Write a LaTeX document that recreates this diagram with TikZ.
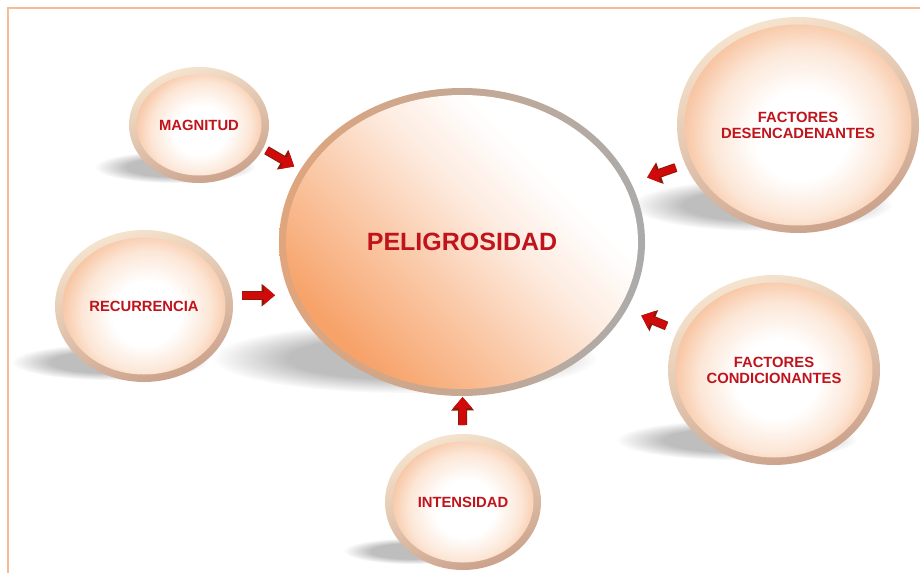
\documentclass[tikz,border=0pt]{standalone}
\usepackage{fontspec}
\setmainfont{Liberation Sans}
\usetikzlibrary{shapes.geometric,arrows.meta,fadings,calc}
\definecolor{txtred}{HTML}{C0141C}
\definecolor{peach}{HTML}{F8C6A4}
\definecolor{peachlt}{HTML}{FCE6D6}
\definecolor{rimlight}{HTML}{F6E4CE}
\definecolor{rimdark}{HTML}{CBA28C}
\definecolor{pelorange}{HTML}{F7A269}
\definecolor{pelmid}{HTML}{FAC8A6}
\definecolor{pelpale}{HTML}{FDEBDF}
\definecolor{pelrimL}{HTML}{E0A57C}
\definecolor{pelrimR}{HTML}{ABABAB}
\definecolor{arrred}{HTML}{D00A0A}
\definecolor{arrdark}{HTML}{8A1A08}
\definecolor{framecol}{HTML}{F6BC96}
\definecolor{shadowcol}{HTML}{BEBEBE}
\pgfdeclareradialshading{bubinner}{\pgfpoint{0bp}{-3bp}}{color(0bp)=(white); color(10bp)=(white); color(19bp)=(peachlt); color(25bp)=(peach); color(50bp)=(peach)}
\pgfdeclareverticalshading{peltone}{100bp}{color(0bp)=(pelorange); color(27bp)=(pelorange); color(42bp)=(pelmid); color(55bp)=(pelpale); color(66bp)=(white); color(100bp)=(white)}
\pgfdeclareradialshading{shfade}{\pgfpointorigin}{color(0bp)=(pgftransparent!0); color(15bp)=(pgftransparent!0); color(25bp)=(pgftransparent!100); color(50bp)=(pgftransparent!100)}
\pgfdeclarefading{softshadow}{\pgfuseshading{shfade}}
\tikzset{
  bub/.style={ellipse, inner sep=0pt, outer sep=0pt, top color=rimlight, bottom color=rimdark, shading angle=20,
    font=\bfseries\fontsize{14.8}{16}\selectfont, text=txtred, align=center,
    path picture={\shade[shading=bubinner] let \p1=(path picture bounding box.north east), \p2=(path picture bounding box.center) in (\p2) ellipse [x radius=\x1-\x2-7.5pt, y radius=\y1-\y2-7.5pt];}},
  pelbub/.style={ellipse, inner sep=0pt, outer sep=0pt, left color=pelrimL, right color=pelrimR,
    font=\bfseries\fontsize{25}{30}\selectfont, text=txtred,
    path picture={\shade[shading=peltone, shading angle=-45] let \p1=(path picture bounding box.north east), \p2=(path picture bounding box.center) in (\p2) ellipse [x radius=\x1-\x2-7pt, y radius=\y1-\y2-7pt];}},
  barrow/.style={draw=arrred, line width=7pt, -{Triangle[length=11pt,width=18pt]},
    preaction={draw=arrdark, line width=9pt, -{Triangle[length=13.5pt,width=22pt]}}},
  shadowblob/.style={fill=shadowcol, path fading=softshadow},
  framerule/.style={draw=framecol, line width=1.5pt}
}
\begin{document}
\begin{tikzpicture}[x=1pt,y=-1pt]
\useasboundingbox (0,0) rectangle (920,573);
\fill[white] (0,0) rectangle (920,573);
\draw[framerule] (8,573) -- (8,8) -- (920,8);
% shadows
\fill[shadowblob] (175,167) ellipse (80 and 16);
\fill[shadowblob] (405,358) ellipse (192 and 35);
\fill[shadowblob] (110,362) ellipse (98 and 18);
\fill[shadowblob] (412,551) ellipse (68 and 13);
\fill[shadowblob] (762,205) ellipse (130 and 26);
\fill[shadowblob] (737,440) ellipse (120 and 20);
% bubbles
\node[bub, minimum width=140pt, minimum height=116pt] (mag) at (199,125) {MAGNITUD};
\node[pelbub, minimum width=366pt, minimum height=308pt] (pel) at (462,242) {PELIGROSIDAD};
\node[bub, minimum width=242pt, minimum height=216pt] (desc) at (798,125) {FACTORES\\DESENCADENANTES};
\node[bub, minimum width=178pt, minimum height=152pt] (rec) at (144,306) {RECURRENCIA};
\node[bub, minimum width=156pt, minimum height=136pt] (int) at (463,502) {INTENSIDAD};
\node[bub, minimum width=212pt, minimum height=190pt] (cond) at (774,370) {FACTORES\\CONDICIONANTES};
% arrows
\draw[barrow, shorten <=4pt, shorten >=7pt] (mag.-20) -- (pel.156);
\draw[barrow, shorten <=10pt, shorten >=4pt] (rec.7) -- (rec.7 -| pel.west);
\draw[barrow, shorten <=9pt, shorten >=1pt] (int) -- (pel);
\draw[barrow, shorten <=10pt, shorten >=17pt] (desc) -- (pel);
\draw[barrow, shorten <=12pt, shorten >=16pt] (cond) -- (pel);
\end{tikzpicture}
\end{document}
